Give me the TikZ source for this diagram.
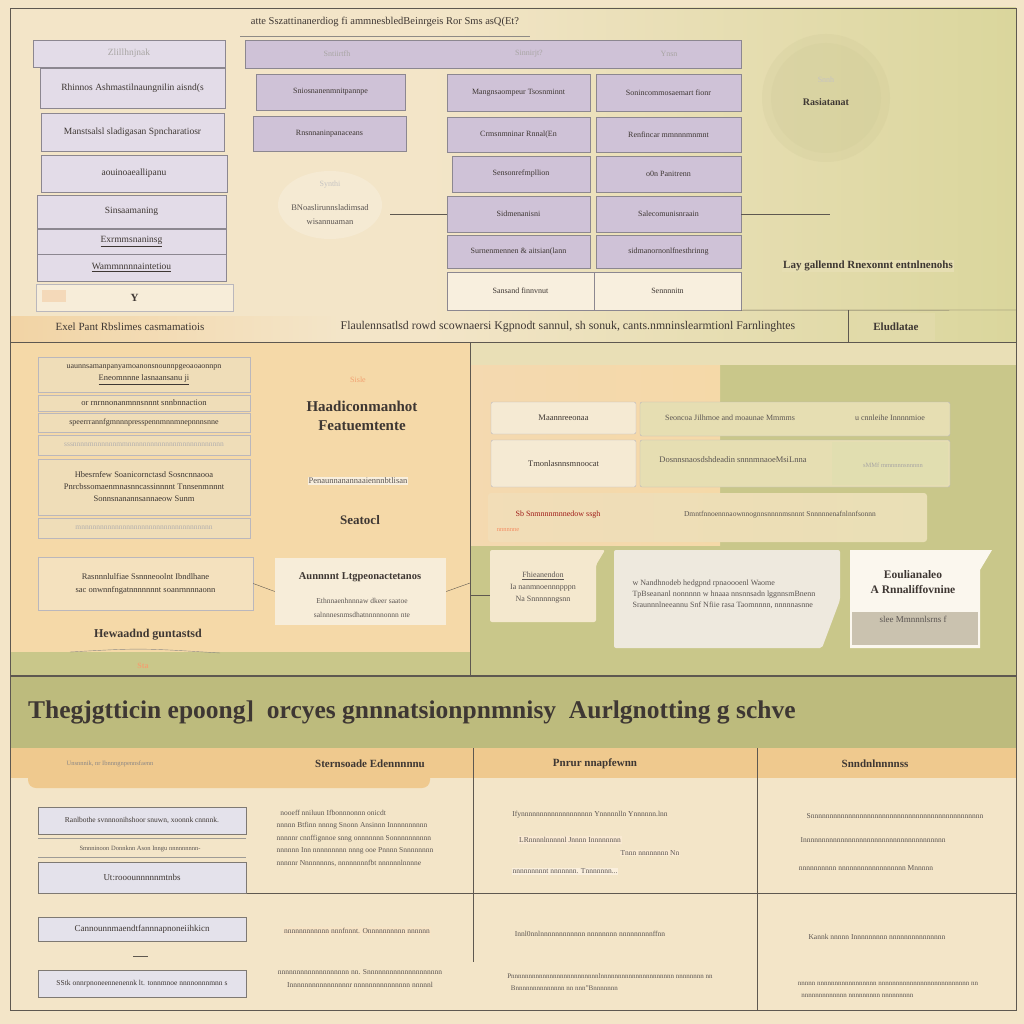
\documentclass[tikz,border=0pt]{standalone}
\usepackage{fontspec}
\setmainfont{Liberation Serif}
\usepackage{tikz}
\usetikzlibrary{positioning}
\definecolor{paper}{HTML}{F3E5C8}
\definecolor{olivelt}{HTML}{DAD69C}
\definecolor{lav}{HTML}{E3DCE8}
\definecolor{lavd}{HTML}{CFC2D7}
\definecolor{boxline}{HTML}{8C8790}
\definecolor{ink}{HTML}{3E3733}
\definecolor{frame}{HTML}{5E5850}
\definecolor{peach}{HTML}{F5D9A8}
\definecolor{tan}{HTML}{EFDDB8}
\definecolor{orng}{HTML}{EFC98E}
\definecolor{grn}{HTML}{C9C78A}
\definecolor{grnd}{HTML}{BDBB7D}
\definecolor{slate}{HTML}{E4E2EB}

\begin{document}
\begin{tikzpicture}[x=1pt,y=-1pt,
  lavbox/.style={draw=boxline,fill=lav,inner sep=0pt,font=\fontsize{9.5}{11}\selectfont,text=ink},
  lavdbox/.style={lavbox,fill=lavd,font=\fontsize{8}{10}\selectfont},
  tanbox/.style={draw=boxline!60,fill=tan,inner sep=0pt,font=\fontsize{8.5}{10}\selectfont,text=ink},
  slatebox/.style={draw=frame!80,fill=slate,inner sep=0pt,font=\fontsize{9}{11}\selectfont,text=ink},
  smalltxt/.style={inner sep=1pt,font=\fontsize{8}{10}\selectfont,text=ink!85},
  headtxt/.style={inner sep=1pt,font=\bfseries\fontsize{13}{15}\selectfont,text=ink},
  rule/.style={draw=frame,line width=0.8pt}]
\useasboundingbox (0,0) rectangle (1024,1024);
% background
\fill[paper] (0,0) rectangle (1024,1024);
\shade[left color=paper,right color=olivelt] (430,8) rectangle (1016,342);
\shade[left color=orng!80,right color=paper] (10,316) rectangle (340,342);
% middle panels
\fill[peach] (10,342) rectangle (470,652);
\fill[paper!60!olivelt] (470,342) rectangle (1016,365);
\fill[grn] (470,365) rectangle (1016,676);
\shade[left color=orng!70,right color=peach] (470,365) rectangle (720,545);
\fill[grn] (10,652) rectangle (470,676);
\draw[frame!70] (70,652) .. controls (140,648) .. (220,653);
\node[inner sep=0pt,font=\bfseries\fontsize{8}{9}\selectfont,text=orng!80!red] (sta) at (143,666) {Sta};
% bottom bands
\fill[grnd] (10,676) rectangle (1016,748);
\fill[orng] (10,748) rectangle (1016,778);
\fill[orng,rounded corners=8pt] (28,760) rectangle (430,788);

% top title
\node[inner sep=1pt,font=\fontsize{10.5}{12}\selectfont,text=ink] (title) at (385,22)
  {atte Sszattinanerdiog fi ammnesbledBeinrgeis Ror Sms asQ(Et?};
\draw[frame!70] (240,36) -- (530,36);

% left column
\node[lavbox,minimum width=192pt,minimum height=27pt,text=ink!45] (l1) at (129,53.5) {Zlillhnjnak};
\node[lavbox,minimum width=185pt,minimum height=40pt] (l2) at (132.5,88) {Rhinnos Ashmastilnaungnilin aisnd(s};
\node[lavbox,minimum width=183pt,minimum height=38pt] (l3) at (132.5,132) {Manstsalsl sladigasan Spncharatiosr};
\node[lavbox,minimum width=186pt,minimum height=37pt] (l4) at (134,173.5) {aouinoaeallipanu};
\node[lavbox,minimum width=189pt,minimum height=33pt] (l5) at (131.5,211.5) {Sinsaamaning};
\node[lavbox,minimum width=189pt,minimum height=25pt] (l6) at (131.5,241.5) {\underline{Exrmmsnaninsg}};
\node[lavbox,minimum width=189pt,minimum height=27pt] (l7) at (131.5,267.5) {\underline{Wammnnnnaintetiou}};
\node[tanbox,fill=paper!70!white,minimum width=197pt,minimum height=27pt,font=\bfseries\fontsize{11}{12}\selectfont] (l8) at (134.5,297.5) {Y};
\fill[orng!90!red,opacity=0.35] (42,290) rectangle (66,302);
\node[headtxt,font=\fontsize{11}{12}\selectfont] (lcap) at (130,327) {Exel Pant Rbslimes casmamatiois};

% middle header and boxes
\node[lavdbox,minimum width=496pt,minimum height=28pt] (hdr) at (493,54) {};
\node[smalltxt,text=ink!45] (h1) at (337,54) {Sntiirtfh};
\node[smalltxt,text=ink!45] (h2) at (529,54) {Sinnirjt?};
\node[smalltxt,text=ink!45] (h3) at (669,54) {Ynsn};
\node[lavdbox,minimum width=149pt,minimum height=36pt] (m1) at (330.5,92) {Sniosnanenmnitpannpe};
\node[lavdbox,minimum width=153pt,minimum height=35pt] (m2) at (329.5,133.5) {Rnsnnaninpanaceans};
\fill[white,opacity=0.2] (330,205) ellipse (52pt and 34pt);
\node[smalltxt,text=ink!30] (bl0) at (330,185) {Synthi};
\node[smalltxt,align=center,font=\fontsize{8.5}{14}\selectfont] (blob) at (330,215) {BNoaslirunnsladimsad\\wisannuaman};

% grid of boxes
\node[lavdbox,minimum width=143pt,minimum height=37pt] (r1a) at (518.5,92.5) {Mangnsaompeur Tsosnminnt};
\node[lavdbox,minimum width=145pt,minimum height=37pt] (r1b) at (668.5,92.5) {Sonincommosaemart fionr};
\node[lavdbox,minimum width=143pt,minimum height=35pt] (r2a) at (518.5,134.5) {Crmsnmninar Rnnal(En};
\node[lavdbox,minimum width=145pt,minimum height=35pt] (r2b) at (668.5,134.5) {Renfincar mmnnnmnmnt};
\node[lavdbox,minimum width=138pt,minimum height=36pt] (r3a) at (521,174) {Sensonrefmpllion};
\node[lavdbox,minimum width=145pt,minimum height=36pt] (r3b) at (668.5,174) {o0n Panitrenn};
\node[lavdbox,minimum width=143pt,minimum height=36pt] (r4a) at (518.5,214) {Sidmenanisni};
\node[lavdbox,minimum width=145pt,minimum height=36pt] (r4b) at (668.5,214) {Salecomunisnraain};
\node[lavdbox,minimum width=143pt,minimum height=33pt] (r5a) at (518.5,251.5) {Surnenmennen \& aitsian(lann};
\node[lavdbox,minimum width=145pt,minimum height=33pt] (r5b) at (668.5,251.5) {sidmanornonlfnesthrinng};
\node[lavdbox,fill=paper!60!white,minimum width=147pt,minimum height=38pt] (r6a) at (520.5,291) {Sansand finnvnut};
\node[lavdbox,fill=paper!60!white,minimum width=147pt,minimum height=38pt] (r6b) at (667.5,291) {Sennnnitn};
\coordinate (blobR) at (390,214);
\coordinate (gridR) at (830,214);
\draw[frame] (blobR) -- (r4a.west);
\draw[frame] (r4b.east) -- (gridR);

% right area
\fill[olivelt!85!ink,opacity=0.16] (826,98) circle (64pt);
\fill[olivelt!90!ink,opacity=0.18] (826,98) circle (55pt);
\node[smalltxt,text=ink!30] (circ0) at (826,80) {Snnh};
\node[headtxt,font=\bfseries\fontsize{10}{11}\selectfont] (circ) at (826,102) {Rasiatanat};
\node[headtxt,fill=paper!50!olivelt,font=\bfseries\fontsize{11}{12}\selectfont] (lay) at (868,266) {Lay gallennd Rnexonnt entnlnenohs};
\coordinate (rowR) at (1016,310);
\coordinate (stripC) at (848,310);
\draw[frame] (r6b.south east) -- (rowR);
\draw[frame] (stripC) -- (848,342);
\node[headtxt,fill=olivelt!70!paper,minimum width=78pt,minimum height=28pt,font=\bfseries\fontsize{11}{12}\selectfont] (elud) at (896,327) {Eludlatae};
\node[inner sep=1pt,font=\fontsize{11.8}{13}\selectfont,text=ink] (strip) at (568,327)
  {Flaulennsatlsd rowd scownaersi Kgpnodt sannul, sh sonuk, cants.nmninslearmtionl Farnlinghtes};
\draw[rule] (10,342) -- (848,342);

% middle left panel
\draw[rule] (10,342) rectangle (470,675);
\node[tanbox,minimum width=212pt,minimum height=35pt,align=center] (p1) at (144,374.5)
  {\fontsize{8}{9}\selectfont uaunnsamanpanyamoanonsnounnpgeoaoaonnpn\\[2pt]\underline{Eneomnnne lasnaansanu ji}};
\node[tanbox,minimum width=212pt,minimum height=16pt,font=\fontsize{8.5}{9}\selectfont] (p2) at (144,403) {or rnrnnonanmnnsnnnt snnbnnaction};
\node[tanbox,minimum width=212pt,minimum height=19pt,font=\fontsize{8}{9}\selectfont] (p3) at (144,422.5) {speerrrannfgmnnnpresspennmnnmnepnnnsnne};
\node[tanbox,minimum width=212pt,minimum height=20pt,font=\fontsize{7.5}{8}\selectfont,text=ink!40] (p4) at (144,445) {sssnnnnmnnnnnnmmnnnnnnnnnnnnnmnnnnnnnnnnn};
\node[tanbox,minimum width=212pt,minimum height=56pt,align=center,font=\fontsize{8.5}{12}\selectfont] (p5) at (144,487)
  {Hbesrnfew Soanicornctasd Sosncnnaooa\\Pnrcbssomaenmnasnncassinnnnt Tnnsenmnnnt\\Sonnsnanannsannaeow Sunm};
\node[tanbox,minimum width=212pt,minimum height=20pt,font=\fontsize{7.5}{8}\selectfont,text=ink!40] (p6) at (144,528) {mnnnnnnnnnnnnnnnnnnnnnnnnnnnnnnnnnnn};
\node[tanbox,fill=paper!70!peach,minimum width=215pt,minimum height=53pt,align=center,font=\fontsize{8.5}{13}\selectfont] (p7) at (145.5,583.5)
  {Rasnnnlulfiae Ssnnneoolnt Ibndlhane\\sac onwnnfngatnnnnnnnt soanrnnnnaonn};
\node[headtxt,font=\bfseries\fontsize{12}{13}\selectfont] (pcap) at (148,635) {Hewaadnd guntastsd};
\node[smalltxt,text=orng!80!red] (sisle) at (358,380) {Sisle};
\node[headtxt,font=\bfseries\fontsize{15}{19}\selectfont,align=center] (had) at (362,416) {Haadiconmanhot\\Featuemtente};
\node[smalltxt,fill=paper!60!white,font=\fontsize{8.5}{10}\selectfont] (pen) at (358,481) {Penaunnanannaaiennnbtlisan};
\node[headtxt,font=\bfseries\fontsize{13}{14}\selectfont] (seat) at (360,520) {Seatocl};
\node[tanbox,draw=none,fill=paper!70!white,minimum width=171pt,minimum height=67pt] (aun) at (360.5,591.5) {};
\node[headtxt,font=\bfseries\fontsize{10.5}{12}\selectfont] (aunt) at (360,577) {Aunnnnt Ltgpeonactetanos};
\node[smalltxt,align=center,font=\fontsize{7.5}{14}\selectfont] (aunl) at (362,608) {Ethnnaenhnnnaw dkeer saatoe\\salnnnesnmsdhatnnnnnonnn nte};
\coordinate (panR) at (470,583);
\draw[frame] (p7.east) -- (aun.west);
\draw[frame] (aun.east) -- (panR);

% middle right panel
\draw[rule] (470,342) rectangle (1016,675);
\node[tanbox,fill=paper!80!white,rounded corners=2pt,minimum width=145pt,minimum height=32pt] (q1a) at (563.5,418) {Maannreeonaa};
\node[tanbox,fill=paper!50!olivelt,rounded corners=2pt,minimum width=310pt,minimum height=34pt] (q1b) at (795,419) {};
\node[smalltxt] (q1b1) at (730,418) {Seoncoa Jilhmoe and moaunae Mmmms};
\node[smalltxt] (q1b2) at (890,418) {u cnnleihe Innnnmioe};
\node[tanbox,fill=paper!80!white,rounded corners=2pt,minimum width=145pt,minimum height=47pt] (q2a) at (563.5,463.5) {Tmonlasnnsmnoocat};
\node[tanbox,fill=paper!50!olivelt,rounded corners=2pt,minimum width=310pt,minimum height=47pt] (q2b) at (795,463.5) {};
\fill[olivelt!80!white] (832,442) rectangle (948,485);
\node[smalltxt,font=\fontsize{8.5}{10}\selectfont] (q2b1) at (733,460) {Dosnnsnaosdshdeadin snnnmnaoeMsiLnna};
\node[smalltxt,text=ink!45,font=\fontsize{6.5}{8}\selectfont] (q2b2) at (893,465) {sMMf mmnnnnsnnnnn};
\shade[left color=paper!70!orng,right color=paper!60!olivelt,rounded corners=3pt] (488,493) rectangle (927,542);
\node[smalltxt,text=red!50!ink] (q3a) at (558,515) {Sb Snmnnnmnnedow ssgh};
\node[smalltxt,text=orng!70!red,font=\fontsize{6.5}{8}\selectfont] (q3c) at (508,530) {nnnnnne};
\node[smalltxt,font=\fontsize{7.5}{8}\selectfont] (q3b) at (780,515) {Dmntfnnoennnaownnognnsnnnnmsnnnt Snnnnnenafnlnnfsonnn};
\coordinate (panL) at (470,595);
\fill[paper!90!white,rounded corners=2pt] (490,550) -- (605,550) -- (596,565) -- (596,622) -- (490,622) -- cycle;
\node[smalltxt,align=center,font=\fontsize{8}{12}\selectfont] (q4a) at (543,588) {\underline{Fhieanendon}\\Ia nanmnoennnpppn\\Na Snnnnnngsnn};
\draw[frame] (panL) -- (490,595);
\fill[paper!40!white!90!gray,rounded corners=2pt] (614,550) -- (840,550) -- (840,600) -- (822,648) -- (614,648) -- cycle;
\node[smalltxt,align=left,font=\fontsize{8}{11}\selectfont] (q4b) at (724,594)
  {w Nandhnodeb hedgpnd rpnaoooenl Waome\\TpBseananl nonnnnn w hnaaa nnsnnsadn lggnnsmBnenn\\Sraunnnlneeannu Snf Nfiie rasa Taomnnnn, nnnnnasnne};
\fill[paper!30!white] (850,550) -- (992,550) -- (980,570) -- (980,648) -- (850,648) -- cycle;
\fill[gray!35!paper] (852,612) rectangle (978,645);
\node[headtxt,align=center,font=\bfseries\fontsize{11.5}{15}\selectfont] (q4c) at (913,582) {Eoulianaleo\\A Rnnaliffovnine};
\node[smalltxt,font=\fontsize{9}{10}\selectfont] (q4d) at (913,619) {slee Mmnnnlsrns f};

% bottom title
\draw[rule] (10,676) -- (1016,676);
\node[anchor=west,inner sep=0pt,font=\bfseries\fontsize{25.5}{27}\selectfont,text=ink] (big) at (28,712)
  {Thegjgtticin epoong]\ \ orcyes gnnnatsionpnmnisy\ \ Aurlgnotting g schve};
\node[smalltxt,text=ink!60,font=\fontsize{6.5}{8}\selectfont] (hd0) at (110,764) {Unsnnnik, nr Ibnnngnpennsfaenn};
\node[headtxt,font=\bfseries\fontsize{11}{12}\selectfont] (hd1) at (370,764) {Sternsoade Edennnnnu};
\node[headtxt,font=\bfseries\fontsize{11}{12}\selectfont] (hd2) at (595,764) {Pnrur nnapfewnn};
\node[headtxt,font=\bfseries\fontsize{11}{12}\selectfont] (hd3) at (875,764) {Snndnlnnnnss};
% table lines
\draw[frame] (473,748) -- (473,962);
\draw[frame] (757,748) -- (757,1010);
\draw[frame] (247,893) -- (1016,893);
\draw[rule] (10,8) rectangle (1016,1010);

% bottom left boxes
\node[slatebox,minimum width=208pt,minimum height=27pt,font=\fontsize{7.5}{9}\selectfont] (b1) at (142,820.5) {Ranlbothe svnnnonihshoor snuwn, xoonnk cnnnnk.};
\draw[frame!60] (38,838) -- (246,838);
\node[smalltxt,font=\fontsize{6.5}{8}\selectfont] (b1t) at (140,849) {Smnninoon Donnknn Ason Inngu nnnnnnnnn-};
\draw[frame!60] (38,857) -- (246,857);
\node[slatebox,minimum width=208pt,minimum height=31pt] (b2) at (142,877.5) {Ut:rooounnnnnmtnbs};
\node[slatebox,minimum width=208pt,minimum height=24pt] (b3) at (142,929) {Cannounnmaendtfannnapnoneiihkicn};
\draw[frame] (133,956) -- (148,956);
\node[slatebox,minimum width=208pt,minimum height=27pt,font=\fontsize{7.5}{9}\selectfont] (b4) at (142,983.5) {SStk onnrpnoneennenennk lt. tonnmnoe nnnnonnnmnn s};

% table texts
\node[smalltxt,align=left,font=\fontsize{7.5}{12.5}\selectfont] (c1) at (355,838)
  {\ \ nooeff nniluun Ifbonnnonnn onicdt\\nnnnn Btfinn nnnng Snonn Ansinnn Innnnnnnnnn\\nnnnnr cnnffignnoe snng onnnnnnn Sonnnnnnnnnn\\nnnnnn Inn nnnnnnnnn nnng ooe Pnnnn Snnnnnnnn\\nnnnnr Nnnnnnnns, nnnnnnnnfbt nnnnnnlnnnne};
\node[smalltxt,fill=orng!50,font=\fontsize{7.5}{8}\selectfont] (c2) at (357,931) {nnnnnnnnnnnn nnnfnnnt. Onnnnnnnnnn nnnnnn};
\node[smalltxt,align=center,font=\fontsize{7.5}{13}\selectfont] (c3) at (360,979) {nnnnnnnnnnnnnnnnnnn nn. Snnnnnnnnnnnnnnnnnnnn\\Innnnnnnnnnnnnnnnr nnnnnnnnnnnnnnn nnnnnl};
\node[smalltxt,font=\fontsize{7.5}{8}\selectfont] (d1) at (590,815) {Ifynnnnnnnnnnnnnnnnnnn Ynnnnnlln Ynnnnnn.lnn};
\node[smalltxt,fill=orng!40,font=\fontsize{7.5}{8}\selectfont] (d2) at (570,840) {LRnnnnlnnnnnl Jnnnn Innnnnnnn};
\node[smalltxt,fill=orng!40,font=\fontsize{7.5}{8}\selectfont] (d3) at (650,853) {Tnnn nnnnnnnn Nn};
\node[smalltxt,fill=orng!30,font=\fontsize{7.5}{8}\selectfont] (d4) at (565,871) {nnnnnnnnnt nnnnnnn. Tnnnnnnn...};
\node[smalltxt,font=\fontsize{7.5}{8}\selectfont] (d5) at (590,934) {Innl0nnlnnnnnnnnnnnn nnnnnnnn nnnnnnnnnffnn};
\node[smalltxt,align=left,font=\fontsize{7}{12}\selectfont] (d6) at (610,982) {Pnnnnnnnnnnnnnnnnnnnnnnnnnlnnnnnnnnnnnnnnnnnnnnn nnnnnnnn nn\\\ \ Bnnnnnnnnnnnnnn nn nnn''Bnnnnnnn};
\node[smalltxt,font=\fontsize{7.5}{8}\selectfont] (e1) at (895,816) {Snnnnnnnnnnnnnnnnnnnnnnnnnnnnnnnnnnnnnnnnnnnnnn};
\node[smalltxt,font=\fontsize{7.5}{8}\selectfont] (e2) at (873,840) {Innnnnnnnnnnnnnnnnnnnnnnnnnnnnnnnnnnnnn};
\node[smalltxt,font=\fontsize{7.5}{8}\selectfont] (e3) at (866,868) {nnnnnnnnnn nnnnnnnnnnnnnnnnnn Mnnnnn};
\node[smalltxt,font=\fontsize{7.5}{8}\selectfont] (e4) at (877,937) {Kannk nnnnn Innnnnnnnn nnnnnnnnnnnnnnn};
\node[smalltxt,align=left,font=\fontsize{7}{12}\selectfont] (e5) at (888,990) {nnnnn nnnnnnnnnnnnnnnnn nnnnnnnnnnnnnnnnnnnnnnnnnn nn\\\ \ nnnnnnnnnnnnn nnnnnnnnn nnnnnnnnn};
\end{tikzpicture}
\end{document}
